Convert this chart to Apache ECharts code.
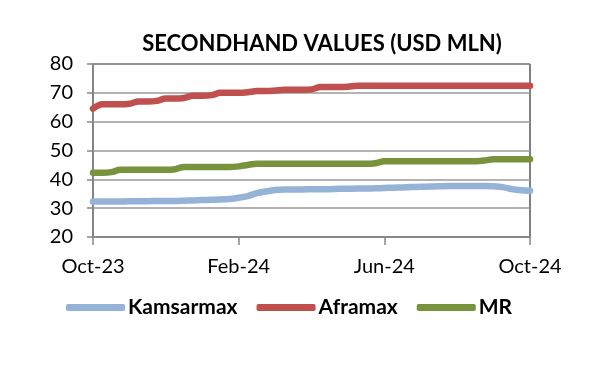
<!DOCTYPE html>
<html><head><meta charset="utf-8">
<script src="https://cdn.jsdelivr.net/npm/echarts@6/dist/echarts.min.js"></script>
<style>html,body{margin:0;padding:0;background:#fff}#c{width:600px;height:367px}</style>
</head><body><div id="c"></div>
<script>
var tickLabels = ['Oct-23','Feb-24','Jun-24','Oct-24'];
var kamsarmax = [32.3,32.3,32.3,32.3,32.4,32.4,32.4,32.5,32.5,32.5,32.6,32.7,32.8,32.9,33.0,33.2,33.6,34.2,35.2,35.8,36.3,36.5,36.5,36.5,36.6,36.6,36.6,36.7,36.7,36.8,36.8,36.9,37.0,37.1,37.2,37.3,37.4,37.5,37.6,37.7,37.7,37.7,37.7,37.7,37.6,37.3,36.6,36.2,36.0];
var aframax = [64.5,66,66,66,66.2,67,67,67.2,68,68,68.2,69,69,69.2,70,70,70,70.2,70.6,70.6,70.8,71.1,71.1,71.1,71.2,72,72,72,72.1,72.5,72.5,72.5,72.5,72.5,72.5,72.5,72.5,72.5,72.5,72.5,72.5,72.5,72.5,72.5,72.5,72.5,72.5,72.5,72.5];
var mr = [42.3,42.3,42.5,43.3,43.3,43.3,43.3,43.3,43.3,43.5,44.3,44.3,44.3,44.3,44.3,44.3,44.5,45.0,45.4,45.4,45.4,45.4,45.4,45.4,45.4,45.4,45.4,45.4,45.4,45.4,45.4,45.6,46.3,46.3,46.3,46.3,46.3,46.3,46.3,46.3,46.3,46.3,46.3,46.5,47.0,47.0,47.0,47.0,47.0];
var categories = kamsarmax.map(function(_, i){ return i; });
var labelAt = {0: tickLabels[0], 16: tickLabels[1], 32: tickLabels[2], 48: tickLabels[3]};
var font = 'Lato, "Open Sans", sans-serif';
var chart = echarts.init(document.getElementById('c'));
function s(name, data, color){
  return {name:name, type:'line', data:data, symbol:'none', smooth:0.3,
    lineStyle:{width:6.5, color:color, cap:'round'}, itemStyle:{color:color}};
}
chart.setOption({
  animation:false,
  title:{text:'SECONDHAND VALUES (USD MLN)', left:317, top:28, textAlign:'center',
    textStyle:{fontFamily:font, fontWeight:'bold', fontSize:22, color:'#000'}},
  grid:{left:93, right:70, top:64, bottom:130, show:true, borderColor:'#000', borderWidth:1},
  legend:{bottom:44, left:61, itemWidth:59, itemHeight:7, itemGap:19, icon:'roundRect',
    textStyle:{fontFamily:font, fontWeight:'bold', fontSize:21, color:'#000', padding:[0,0,0,-2]},
    data:['Kamsarmax','Aframax','MR']},
  xAxis:{type:'category', data:categories, boundaryGap:false,
    axisLine:{lineStyle:{color:'#868686', width:1.5}},
    axisTick:{show:true, length:8, interval:function(i){return labelAt[i]!==undefined;}, lineStyle:{color:'#868686', width:1.5}},
    axisLabel:{interval:function(i){return labelAt[i]!==undefined;}, formatter:function(v){return labelAt[v]||'';},
      fontFamily:font, fontSize:20, color:'#000', margin:20},
    splitLine:{show:false}},
  yAxis:{type:'value', min:20, max:80, interval:10,
    axisLine:{show:true, lineStyle:{color:'#868686', width:1.5}},
    axisTick:{show:true, length:6, lineStyle:{color:'#868686', width:1.5}},
    axisLabel:{fontFamily:font, fontSize:20, color:'#000', margin:20},
    splitLine:{lineStyle:{color:'#9a9a9a', width:1.5}}},
  series:[s('Kamsarmax', kamsarmax, '#95b3d7'), s('Aframax', aframax, '#c0504d'), s('MR', mr, '#77933c')]
});
</script></body></html>
